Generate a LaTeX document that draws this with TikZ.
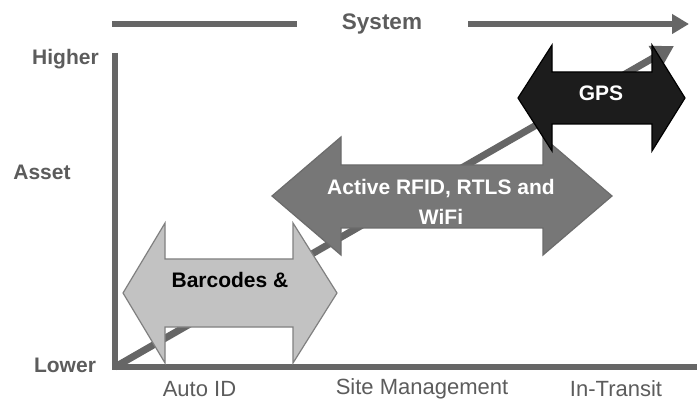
\documentclass[tikz,border=0pt]{standalone}
\usepackage{fontspec}
\setmainfont{Liberation Sans}
\usetikzlibrary{arrows.meta}

\definecolor{axisgray}{HTML}{666666}
\definecolor{labelgray}{HTML}{5C5C5C}
\definecolor{lightfill}{HTML}{C2C2C2}
\definecolor{lightedge}{HTML}{808080}
\definecolor{midfill}{HTML}{777777}
\definecolor{midedge}{HTML}{6C6C6C}
\definecolor{darkfill}{HTML}{1C1C1C}

\begin{document}
\begin{tikzpicture}[x=1pt,y=-1pt,
  axisline/.style={draw=axisgray,line width=6pt},
  trendline/.style={draw=axisgray,line width=7pt,
    -{Triangle[length=22pt,width=24pt]}},
  sidelbl/.style={text=labelgray,inner sep=0pt,
    font=\fontsize{21}{25}\selectfont\bfseries},
  baselbl/.style={text=labelgray,inner sep=0pt,
    font=\fontsize{22}{26}\selectfont},
  titlelbl/.style={text=labelgray,inner sep=0pt,
    font=\fontsize{22.5}{26}\selectfont\bfseries},
  boxtext/.style={inner sep=0pt,align=center,
    font=\fontsize{21}{30}\selectfont\bfseries},
  lightarrow/.style={fill=lightfill,draw=lightedge,line width=1.2pt},
  midarrow/.style={fill=midfill,draw=midedge,line width=1.2pt},
  darkarrow/.style={fill=darkfill,draw=black,line width=1.2pt}]

\useasboundingbox[fill=white] (0,0) rectangle (697,401);

% key points of the axes and the trend line
\coordinate (top) at (115,53);
\coordinate (origin) at (115,367);
\coordinate (right) at (697,367);
\coordinate (peak) at (674,46);

% "System" banner arrow
\node[titlelbl] (sys) at (382,24) {System};
\coordinate (sysL) at (112,24);
\coordinate (sysLend) at (297,24);
\coordinate (sysRstart) at (468,24);
\coordinate (sysR) at (689,24);
\draw[axisline] (sysL) -- (sysLend);
\draw[axisline,-{Triangle[length=17pt,width=19pt]}] (sysRstart) -- (sysR);

% axes
\draw[axisline,line join=miter] (top) -- (origin) -- (right);

% rising trend
\draw[trendline] (origin) -- (peak);

% Barcodes band
\filldraw[lightarrow] (123,293) -- (165,223) -- (165,259) -- (293,259)
  -- (293,223) -- (337,293) -- (293,363) -- (293,327) -- (165,327)
  -- (165,363) -- cycle;
\node[boxtext,text=black] (bar) at (230,280) {Barcodes \&};

% Active RFID band
\filldraw[midarrow] (272,196) -- (341,137) -- (341,165) -- (543,165)
  -- (543,137) -- (612,196) -- (543,255) -- (543,228) -- (341,228)
  -- (341,255) -- cycle;
\node[boxtext,text=white] (rfid) at (441,202) {Active RFID, RTLS and\\WiFi};

% GPS band
\filldraw[darkarrow] (518,98) -- (552,45) -- (552,72) -- (652,72)
  -- (652,45) -- (685,98) -- (652,151) -- (652,124) -- (552,124)
  -- (552,151) -- cycle;
\node[boxtext,text=white] (gps) at (601,93) {GPS};

% axis labels
\node[sidelbl] (hi) at (65.5,59) {Higher};
\node[sidelbl] (asset) at (42,172) {Asset};
\node[sidelbl] (lo) at (65,365) {Lower};

\node[baselbl] (auto) at (199.5,389) {Auto ID};
\node[baselbl] (site) at (422,389) {Site Management};
\node[baselbl] (transit) at (616,389) {In-Transit};

\end{tikzpicture}
\end{document}
